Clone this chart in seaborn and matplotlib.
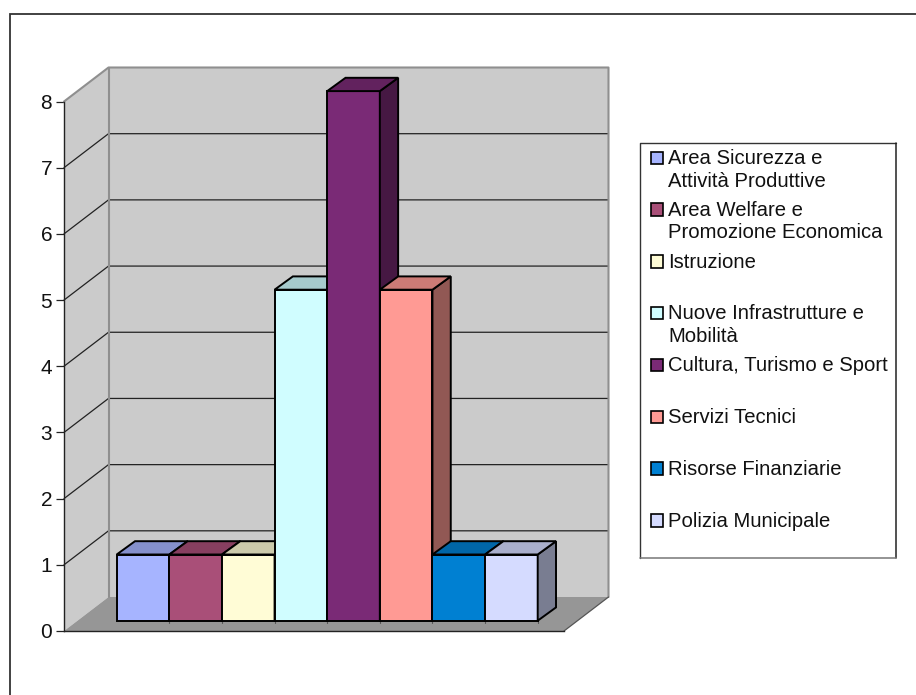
import matplotlib
matplotlib.use('Agg')
import matplotlib.pyplot as plt
from matplotlib.colors import to_rgb
from matplotlib.patches import Polygon, Rectangle
import pandas as pd
import seaborn as sns

categories = ['Area Sicurezza e\nAttività Produttive', 'Area Welfare e\nPromozione Economica', 'Istruzione',
              'Nuove Infrastrutture e\nMobilità', 'Cultura, Turismo e Sport', 'Servizi Tecnici',
              'Risorse Finanziarie', 'Polizia Municipale']
values = [1, 1, 1, 5, 8, 5, 1, 1]
colors = ['#a6b4ff', '#a94f78', '#fffcd6', '#d0fdff', '#7a2a76', '#ff9a94', '#0080d2', '#d5dbff']
y_ticks = [0, 1, 2, 3, 4, 5, 6, 7, 8]

W, H = 916, 695


# axes position from pixel box
def px_axes(left, right, top, bottom, **kw):
    return fig.add_axes([left / W, 1 - bottom / H, (right - left) / W, (bottom - top) / H], **kw)


def shade(color, f):
    return tuple(c * f for c in to_rgb(color))


sns.set_theme(style='white')
plt.rcParams['font.family'] = ['Liberation Sans', 'DejaVu Sans']

fig = plt.figure(figsize=(W / 100, H / 100), dpi=100, facecolor='white')

# overlay in pixels, the outer frame only has a top and a left side
page = px_axes(0, W, 0, H)
page.set_xlim(0, W)
page.set_ylim(H, 0)
page.axis('off')
page.plot([W, 9.5, 9.5], [13.5, 13.5, H], color='#333333', lw=1.3, solid_joinstyle='miter')

# 3D box, front plane of the axis
ax = px_axes(64, 564, 101.5, 631, facecolor='none')
ax.set_xlim(0, 1)
ax.set_ylim(0, 8)
dx, dy = 44.5 / 500, 34 / 66.2
wall = '#cbcbcb'
ax.add_patch(Polygon([(dx, dy), (1 + dx, dy), (1 + dx, 8 + dy), (dx, 8 + dy)], fc=wall, ec='none', clip_on=False))
ax.add_patch(Polygon([(0, 0), (dx, dy), (dx, 8 + dy), (0, 8)], fc=wall, ec='none', clip_on=False))
ax.add_patch(Polygon([(0, 0), (1, 0), (1 + dx, dy), (dx, dy)], fc='#969696', ec='none', clip_on=False))
for t in y_ticks[1:-1]:
    ax.plot([0, dx, 1 + dx], [t, t + dy, t + dy], color='#222222', lw=0.9, clip_on=False)
ax.plot([0, dx, 1 + dx, 1 + dx], [8, 8 + dy, 8 + dy, dy], color='#8f8f8f', lw=1.5, clip_on=False)
ax.plot([dx, dx], [dy, 8 + dy], color='#8f8f8f', lw=1.5, clip_on=False)
ax.plot([1, 1 + dx], [0, dy], color='#555555', lw=0.9, clip_on=False)

ax.set_yticks(y_ticks)
ax.set_xticks([])
ax.tick_params(axis='y', length=6, width=0.9, color='#222222', labelsize=15, pad=2.5, left=True,
               labelcolor='#111111')
ax.grid(False)
for side in ['top', 'right']:
    ax.spines[side].set_visible(False)
for side in ['left', 'bottom']:
    ax.spines[side].set_color('#222222')
    ax.spines[side].set_linewidth(1)

# bars sit a bit behind the axis plane
bars = px_axes(116.7, 537.7, 91.1, 620.7, facecolor='none')
df = pd.DataFrame({'categoria': categories, 'valore': values})
sns.barplot(data=df, x='categoria', y='valore', hue='categoria', palette=colors, width=1.0,
            dodge=False, legend=False, ax=bars, edgecolor='black', linewidth=1.4, saturation=1)
bars.set_xlim(-0.5, 7.5)
bars.set_ylim(0, 8)
bars.axis('off')
ddx, ddy = 18.3 / 52.6, 13.3 / 66.2
for i, (v, c, patch) in enumerate(zip(values, colors, bars.patches)):
    patch.set_zorder(10 + i)
    patch.set_clip_on(False)
    l, r = i - 0.5, i + 0.5
    bars.add_patch(Polygon([(r, 0), (r + ddx, ddy), (r + ddx, v + ddy), (r, v)], fc=shade(c, 0.57),
                           ec='black', lw=1.4, zorder=10 + i, clip_on=False, joinstyle='miter'))
    bars.add_patch(Polygon([(l, v), (l + ddx, v + ddy), (r + ddx, v + ddy), (r, v)], fc=shade(c, 0.8),
                           ec='black', lw=1.4, zorder=10 + i, clip_on=False, joinstyle='miter'))
    # small category tick under each bar edge
    bars.plot([r, r], [0, -0.04], color='#555555', lw=0.8, clip_on=False, zorder=5)

# legend box, entries evenly spaced
leg = px_axes(0, W, 0, H, facecolor='none')
leg.set_xlim(0, W)
leg.set_ylim(H, 0)
leg.axis('off')
leg.add_patch(Rectangle((640, 142.7), 255.7, 415, fc='white', ec='none'))
leg.plot([640, 640, 895.7], [557.7, 142.7, 142.7], color='#333333', lw=1.0)
leg.plot([895.7, 895.7], [142.7, 557.7], color='#222222', lw=1.1)
leg.plot([640, 895.7], [557.7, 557.7], color='#777777', lw=1.1)
for i, (label, c) in enumerate(zip(categories, colors)):
    y0 = 157.5 + i * 51.8
    leg.add_patch(Rectangle((650.5, y0 - 6), 12.5, 12.5, fc=c, ec='black', lw=1.2))
    leg.text(668.3, y0 - 8.5, label, fontsize=14.6, va='top', ha='left', color='#111111', linespacing=1.24)

fig.savefig('out.png', dpi=100)
